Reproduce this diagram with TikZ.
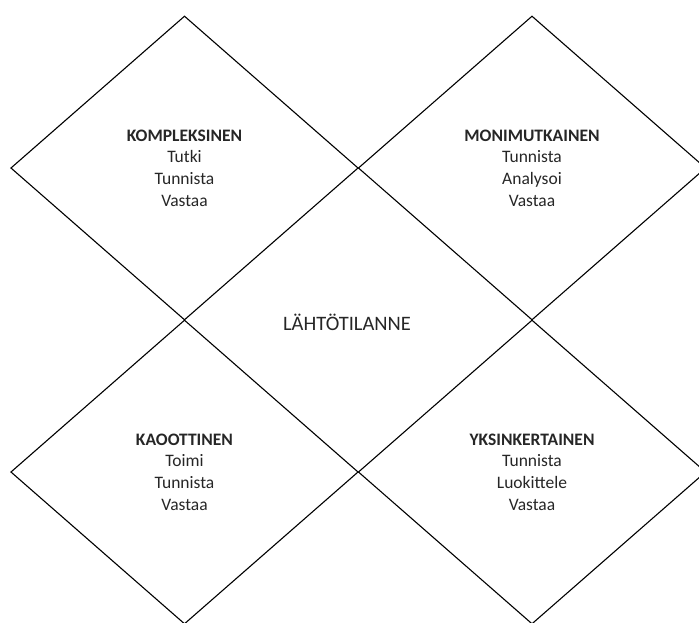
\documentclass[tikz,border=0pt]{standalone}
\usepackage{fontspec}
\setmainfont{Carlito}
\usetikzlibrary{shapes.geometric}
\begin{document}
\begin{tikzpicture}[x=1pt,y=-1pt,
  quad/.style={diamond, draw=black, line width=1.1pt, minimum width=347.5pt, minimum height=304pt, inner sep=0pt, align=center, text=black!85, font=\fontsize{17.5}{21.7}\selectfont},
  lbl/.style={text=black!85, font=\fontsize{20.5}{24}\selectfont}]
\useasboundingbox (0,0) rectangle (699,622);
\node[quad] (komp) at (184.5,168) {\textbf{KOMPLEKSINEN}\\Tutki\\Tunnista\\Vastaa};
\node[quad] (moni) at (532,168) {\textbf{MONIMUTKAINEN}\\Tunnista\\Analysoi\\Vastaa};
\node[quad] (kaoo) at (184.5,472) {\textbf{KAOOTTINEN}\\Toimi\\Tunnista\\Vastaa};
\node[quad] (yksi) at (532,472) {\textbf{YKSINKERTAINEN}\\Tunnista\\Luokittele\\Vastaa};
\node[lbl] (lahto) at (347,322) {LÄHTÖTILANNE};
\end{tikzpicture}
\end{document}
